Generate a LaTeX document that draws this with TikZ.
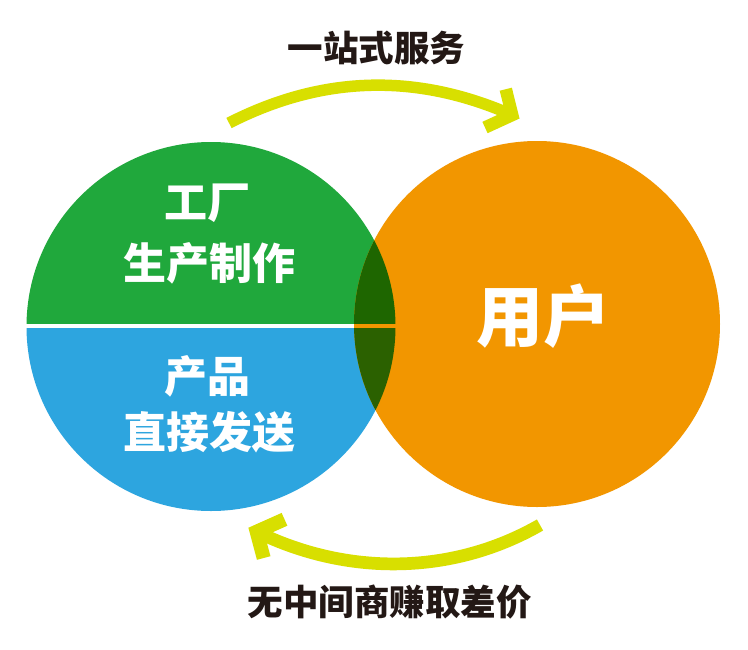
\documentclass[tikz,border=0pt]{standalone}
\usepackage{fontspec}
\newfontfamily\cjk{Noto Sans CJK SC}
\definecolor{cgreen}{HTML}{20A83C}
\definecolor{cblue}{HTML}{2DA5DF}
\definecolor{corange}{HTML}{F29600}
\definecolor{cdgreen}{HTML}{1E6600}
\definecolor{cdolive}{HTML}{2B6100}
\definecolor{cyellow}{HTML}{D8DF00}
\definecolor{cink}{HTML}{231815}
\begin{document}
\begin{tikzpicture}[x=1pt,y=-1pt,
  intext/.style={text=white,font=\cjk\bfseries\fontsize{43}{43}\selectfont,inner sep=0pt},
  bigtext/.style={text=white,font=\cjk\bfseries\fontsize{67}{67}\selectfont,inner sep=0pt},
  captext/.style={text=cink,font=\cjk\bfseries\fontsize{35.5}{36}\selectfont,inner sep=0pt},
  flow/.style={draw=cyellow,line cap=butt},
  head/.style={draw=cyellow,miter limit=4,line join=miter,line cap=butt}]
\useasboundingbox (0,0) rectangle (748,649);
\fill[white] (0,0) rectangle (748,649);
% geometry
\coordinate (L) at (211,326.5);
\coordinate (R) at (537,324);
% left circle halves
\begin{scope}
  \clip (L) circle[radius=184.5];
  \fill[cgreen] (0,0) rectangle (748,323.5);
  \fill[cblue] (0,328) rectangle (748,649);
\end{scope}
% right circle
\fill[corange] (R) circle[radius=183];
% overlap
\begin{scope}
  \clip (L) circle[radius=184.5];
  \clip (R) circle[radius=183];
  \fill[cdgreen] (0,0) rectangle (748,323.5);
  \fill[cdolive] (0,328) rectangle (748,649);
\end{scope}
% texts
\node[intext] (t1) at (207.5,203.5) {工厂};
\node[intext] (t2) at (209,263) {生产制作};
\node[intext] (t3) at (207.5,376) {产品};
\node[intext] (t4) at (209,432.5) {直接发送};
\node[bigtext] (user) at (543.5,316.5) {用户};
\node[captext] (top) at (376.5,47.5) {一站式服务};
\node[captext] (bot) at (389.5,602) {无中间商赚取差价};
% top arrow
\coordinate (a1s) at (229,123);
\coordinate (a1t) at (512.2,115);
\coordinate (a1u) at (505.8,89.2);
\coordinate (a1d) at (485,127.5);
\draw[flow,line width=11.5pt] (a1s) .. controls (324,74.5) and (418,73.5) .. (a1t);
\draw[head,line width=12.5pt] (a1u) -- (a1t) -- (a1d);
% bottom arrow
\coordinate (a2s) at (540,525);
\coordinate (a2t) at (256.7,531.7);
\coordinate (a2u) at (284.5,519.3);
\coordinate (a2d) at (263.7,558);
\draw[flow,line width=12.7pt] (a2s) .. controls (452,575.4) and (347,576) .. (a2t);
\draw[head,line width=14pt] (a2u) -- (a2t) -- (a2d);
\end{tikzpicture}
\end{document}
